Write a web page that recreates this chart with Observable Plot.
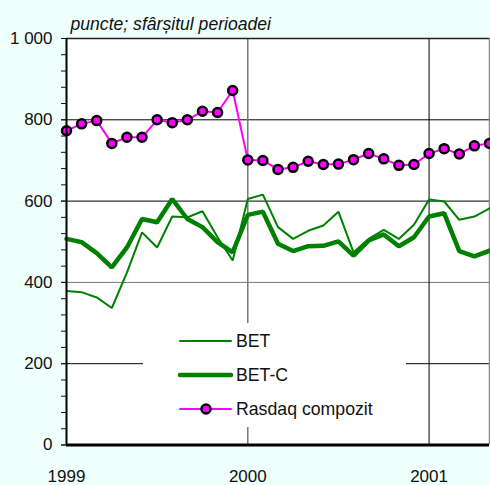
<!DOCTYPE html>
<html>
<head>
<meta charset="utf-8">
<script src="https://cdn.jsdelivr.net/npm/d3@7"></script>
<script src="https://cdn.jsdelivr.net/npm/@observablehq/plot@0.6"></script>
<style>
  html, body { margin: 0; padding: 0; background: #effffb; }
  #wrap { position: relative; width: 490px; height: 485px; overflow: hidden; }
  #legend { position: absolute; left: 143px; top: 323px; width: 263px; height: 104px; background: #fff; }
  svg { display: block; }
</style>
</head>
<body>
<div id="wrap"><div id="chart"></div><div id="legend"></div></div>
<script>
// Month index 0 = January 1999 (end of period), one value per month
const monthIndex = d3.range(0, 29);
const rasdaq = [773,790,798,742,757,757,800,793,800,821,818,872,701,700,678,683,698,690,691,702,717,704,688,690,717,729,716,736,742];
const bet    = [379,376,363,337,424,523,486,562,560,575,511,454,605,616,536,507,527,540,574,474,507,529,507,542,604,599,554,562,582];
const betc   = [507,499,472,437,486,556,548,605,556,536,499,474,566,574,495,477,489,490,501,466,503,518,489,511,562,570,477,464,478];
const seriesNames = ["BET", "BET-C", "Rasdaq compozit"];
const yearTicks = [1999, 2000, 2001];
const yMajor = [0, 200, 400, 600, 800, 1000];
const yMinor = d3.range(0, 1001, 40);
const subtitle = "puncte; sfârșitul perioadei";

const rows = monthIndex.map(i => ({t: 1999 + i / 12, rasdaq: rasdaq[i], bet: bet[i], betc: betc[i]}));
const green = "#008000", magenta = "#ff00ff";
const font = "'Liberation Sans', Arial, Helvetica, sans-serif";
const fmt = d3.formatLocale({decimal: ",", thousands: " ", grouping: [3], currency: ["", ""]}).format(",");

const chart = Plot.plot({
  width: 490,
  height: 485,
  marginLeft: 66,
  marginTop: 38,
  marginRight: 1,
  marginBottom: 40.5,
  style: {background: "transparent", fontFamily: font, fontSize: "17px", color: "#111", overflow: "visible"},
  x: {domain: [1999, 1999 + 28 / 12]},
  y: {domain: [0, 1000]},
  marks: [
    Plot.frame({fill: "white", stroke: null}),
    Plot.ruleY(yMajor.filter(d => d !== 400 && d !== 0 && d !== 1000), {stroke: "#000", strokeWidth: 1}),
    Plot.ruleY([400], {stroke: "#777", strokeWidth: 1}),
    Plot.ruleX([2000], {stroke: "#777", strokeWidth: 1.5}),
    Plot.ruleX([2001], {stroke: "#000", strokeWidth: 1}),
    Plot.ruleX([1999 + 28 / 12], {stroke: "#888", strokeWidth: 1.5}),
    Plot.ruleY([1000], {stroke: "#222", strokeWidth: 1.5}),
    Plot.line(rows, {x: "t", y: "betc", stroke: green, strokeWidth: 4.5, strokeLinejoin: "miter"}),
    Plot.line(rows, {x: "t", y: "bet", stroke: green, strokeWidth: 2, strokeLinejoin: "miter"}),
    Plot.line(rows, {x: "t", y: "rasdaq", stroke: magenta, strokeWidth: 2}),
    Plot.dot(rows, {x: "t", y: "rasdaq", r: 4.5, fill: magenta, stroke: "#000", strokeWidth: 2.5}),
    Plot.ruleY([0], {stroke: "#000", strokeWidth: 3}),
    Plot.ruleX([1999], {stroke: "#000", strokeWidth: 2}),
    Plot.axisY(yMinor, {anchor: "left", tickSize: 5, tickFormat: () => "", label: null}),
    Plot.axisY(yMajor, {anchor: "left", tickSize: 5, tickPadding: 9, tickFormat: fmt, label: null, fontSize: 17}),
    Plot.axisX(yearTicks, {anchor: "bottom", tickSize: 0, tickPadding: 24.5, tickFormat: d => String(d), label: null, fontSize: 17}),
    Plot.text([subtitle], {frameAnchor: "top-left", text: d => d, dx: 4, dy: -9, lineAnchor: "bottom", textAnchor: "start", fontStyle: "italic", fontSize: 17.6})
  ]
});
document.getElementById("chart").appendChild(chart);

// Legend (overlay box, white background interrupting grid lines)
const lg = d3.select("#legend").append("svg").attr("width", 263).attr("height", 104)
  .style("font-family", font).style("font-size", "17.7px");
const styles = [
  {stroke: green, width: 2, dot: false},
  {stroke: green, width: 4.5, dot: false},
  {stroke: magenta, width: 2, dot: true}
];
seriesNames.forEach((name, k) => {
  const y = 18 + k * 34;
  const s = styles[k];
  lg.append("line").attr("x1", 37).attr("x2", 88).attr("y1", y).attr("y2", y)
    .attr("stroke", s.stroke).attr("stroke-width", s.width).attr("stroke-linecap", "round");
  if (s.dot) lg.append("circle").attr("cx", 63).attr("cy", y).attr("r", 4.5)
    .attr("fill", magenta).attr("stroke", "#000").attr("stroke-width", 2.5);
  lg.append("text").attr("x", 93).attr("y", y).attr("dy", "0.36em").attr("fill", "#111").text(name);
});
</script>
</body>
</html>
